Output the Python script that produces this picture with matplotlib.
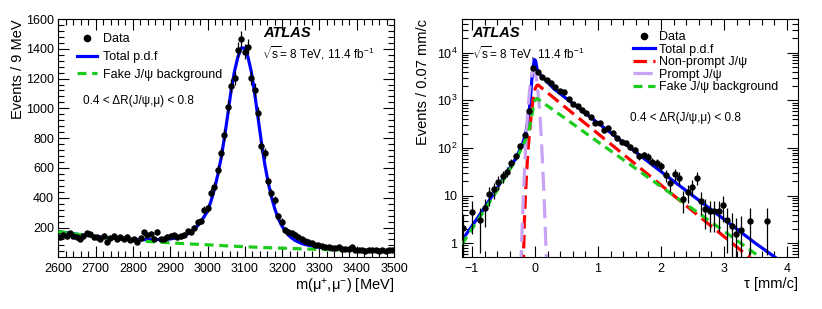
import numpy as np
import matplotlib
matplotlib.use('Agg')
import matplotlib.pyplot as plt
from matplotlib.lines import Line2D
from matplotlib.ticker import MultipleLocator, LogLocator, FuncFormatter, NullFormatter

plt.rcParams['font.family'] = ['Liberation Sans', 'DejaVu Sans']
plt.rcParams['mathtext.fontset'] = 'custom'
plt.rcParams['mathtext.rm'] = 'Liberation Sans'
plt.rcParams['mathtext.it'] = 'Liberation Sans:italic'
plt.rcParams['mathtext.bf'] = 'Liberation Sans:bold'
plt.rcParams['mathtext.default'] = 'regular'

# ---- left panel: di-muon mass, 9 MeV bins from 2600 to 3500 ----
mass_centers = np.arange(2604.5, 3500, 9.0)
mass_data = [135, 151, 140, 160, 141, 133, 122, 140, 160, 155,
             133, 135, 126, 146, 101, 128, 140, 120, 133, 126,
             138, 118, 122, 104, 128, 168, 150, 158, 125, 170,
             124, 122, 138, 146, 148, 138, 140, 150, 175, 172,
             200, 236, 246, 318, 330, 435, 475, 587, 699, 822,
             1012, 1150, 1202, 1392, 1466, 1381, 1415, 1202, 1124, 967,
             744, 699, 509, 430, 386, 274, 240, 184, 173, 162,
             151, 135, 122, 112, 106, 95, 84, 80, 73, 70,
             66, 62, 60, 70, 58, 54, 56, 66, 52, 48,
             47, 44, 50, 46, 47, 44, 49, 43, 47, 48]
mass_total = [172, 168, 165, 161, 158, 155, 152, 149, 146, 144,
              142, 139, 137, 134, 132, 130, 128, 125, 123, 121,
              121, 120, 119, 119, 118, 118, 118, 118, 118, 119,
              120, 121, 122, 124, 128, 132, 136, 143, 156, 170,
              188, 212, 240, 275, 312, 378, 458, 553, 667, 805,
              960, 1125, 1250, 1345, 1405, 1405, 1345, 1245, 1099, 936,
              773, 625, 505, 405, 325, 262, 215, 180, 150, 130,
              114, 103, 93, 86, 81, 76.5, 72, 68, 65.5, 63,
              60, 58, 56.5, 55, 53.5, 52.5, 51.5, 50.5, 49.7, 49,
              48, 47.5, 47, 46.5, 46, 45.5, 45, 44.5, 44, 43.5]
mass_bkg_x = [2600, 2650, 2700, 2750, 2800, 2850, 2900, 2950, 3000, 3050,
              3100, 3150, 3200, 3250, 3300, 3350, 3400, 3450, 3500]
mass_bkg = [173, 155, 140, 126, 113, 104.5, 97, 90, 84, 77,
            71, 65.5, 61, 57, 53, 50, 47, 45, 43]

# ---- right panel: pseudo-proper decay time, 0.07 mm/c bins ----
tau_data_x = [-1.145, -1.005, -0.865, -0.795, -0.725, -0.655, -0.585, -0.515,
              -0.445, -0.375, -0.305, -0.235, -0.165, -0.095, -0.025,
              0.045, 0.115, 0.185, 0.255, 0.325, 0.395, 0.465, 0.535, 0.605, 0.675,
              0.745, 0.815, 0.885, 0.955, 1.025, 1.095, 1.165, 1.235, 1.305, 1.375,
              1.445, 1.515, 1.585, 1.655, 1.725, 1.795, 1.865, 1.935, 2.005, 2.075,
              2.145, 2.215, 2.285, 2.355, 2.425, 2.495, 2.565, 2.635, 2.705, 2.775,
              2.845, 2.915, 2.985, 3.055, 3.125, 3.195, 3.265, 3.405, 3.685]
tau_data = [2.1, 4.6, 3.1, 5.4, 10.8, 13.5, 19.5, 26,
            32, 48, 67, 110, 190, 610, 4800,
            3900, 3160, 2690, 2290, 1880, 1590, 1470, 1050, 830, 760,
            630, 535, 440, 330, 330, 240, 260, 203, 160, 136,
            125, 107, 91, 68, 71, 66, 52, 48, 41, 27,
            18, 28, 24, 8.5, 11.7, 15.5, 24, 7.9, 5.2, 4.8,
            4.8, 4.8, 6.4, 3.1, 2.3, 1.6, 1.9, 3.0, 3.0]

tau_total_x = [-1.16, -1.0, -0.8, -0.6, -0.4, -0.3, -0.2, -0.15, -0.11, -0.09,
               -0.07, -0.05, -0.03, -0.01, 0.01, 0.03, 0.05, 0.08, 0.3, 0.5,
               1.0, 1.5, 2.0, 2.5, 3.0, 3.5, 3.9]
tau_total = [1.15, 2.3, 5.6, 14.5, 38, 62, 120, 190, 400, 640,
             1200, 2700, 5000, 7200, 6800, 4800, 3800, 3500, 1750, 1085,
             334, 104, 32, 10.1, 3.2, 1.0, 0.42]

tau_nonprompt_x = [-0.185, -0.17, -0.15, -0.13, -0.11, -0.09, -0.07, -0.05, -0.03, -0.01,
                   0.01, 0.03, 0.05, 0.5, 1.0, 1.5, 2.0, 2.5, 3.0, 3.5]
tau_nonprompt = [0.3, 2.5, 11, 35, 90, 190, 350, 650, 1050, 1500,
                 1850, 2050, 2100, 685, 200, 58, 16.7, 4.8, 1.39, 0.40]

tau_prompt_x = [-0.24, -0.22, -0.20, -0.18, -0.16, -0.14, -0.12, -0.10, -0.08, -0.06,
                -0.04, -0.02, 0.00, 0.02, 0.04, 0.06, 0.08, 0.10, 0.12, 0.14,
                0.16, 0.18, 0.20]
tau_prompt = [0.076, 0.5, 2.8, 13, 50, 165, 450, 1000, 1900, 3000,
              3900, 4300, 3900, 3000, 1900, 1000, 450, 165, 50, 13,
              2.8, 0.5, 0.076]

tau_fake_x = [-1.16, -1.0, -0.8, -0.6, -0.4, -0.3, -0.2, -0.15, -0.1, -0.06,
              -0.03, 0.0, 0.03, 0.5, 1.0, 1.5, 2.0, 2.5, 3.0, 3.5, 3.7]
tau_fake = [0.95, 2.0, 5.0, 13, 35, 58, 105, 150, 230, 400,
            700, 1000, 1100, 400, 134, 46, 15.5, 5.3, 1.8, 0.6, 0.39]

BLUE = '#0000ff'
GREEN = '#1ccc1c'
RED = '#ff0000'
LILAC = '#c9a3f5'
W, H = 822, 309


def px_axes(left, top, right, bottom):
    return [left / W, 1 - bottom / H, (right - left) / W, (bottom - top) / H]


def root_style(ax):
    ax.tick_params(which='both', direction='in', top=True, right=True,
                   labelsize=9, width=0.8)
    ax.tick_params(which='major', length=8)
    ax.tick_params(which='minor', length=4)
    ax.tick_params(axis='x', pad=4)
    ax.tick_params(axis='y', pad=3)
    for s in ax.spines.values():
        s.set_linewidth(0.8)


# legend handle for data: dot only, no error bar
data_handle = Line2D([], [], marker='o', ls='none', color='k', ms=4.5)

fig = plt.figure(figsize=(W / 100, H / 100), dpi=100)

# ================= left panel =================
ax1 = fig.add_axes(px_axes(58.3, 19, 394, 257))
root_style(ax1)
l_tot, = ax1.plot(mass_centers, mass_total, color=BLUE, lw=2.3, zorder=2)
l_bkg, = ax1.plot(mass_bkg_x, mass_bkg, color=GREEN, lw=2.3, dashes=(2.8, 1.8), zorder=3)
mdata = np.array(mass_data, dtype=float)
ax1.errorbar(mass_centers, mdata, yerr=1.35 * np.sqrt(mdata), fmt='o', color='k',
             ms=3.6, elinewidth=0.9, capsize=0, zorder=4)
ax1.set_xlim(2600, 3500)
ax1.set_ylim(2, 1600)
ax1.xaxis.set_major_locator(MultipleLocator(100))
ax1.xaxis.set_minor_locator(MultipleLocator(20))
ax1.yaxis.set_major_locator(MultipleLocator(200))
ax1.yaxis.set_minor_locator(MultipleLocator(40))
ax1.set_xlabel('m(μ$^{+}$,μ$^{-}$) [MeV]', fontsize=10.5, loc='right')
ax1.set_ylabel('Events / 9 MeV', fontsize=10.5, loc='top')
ax1.xaxis.set_label_coords(1.0, -0.082)
ax1.yaxis.set_label_coords(-0.098, 1.0)

ax1.legend([data_handle, l_tot, l_bkg], ['Data', 'Total p.d.f', 'Fake J/ψ background'],
           loc='upper left', bbox_to_anchor=(0.056, 0.94), frameon=False, fontsize=9,
           borderpad=0, borderaxespad=0, handlelength=1.6, handletextpad=0.45,
           labelspacing=0.45)
ax1.text(0.073, 0.655, '0.4 < ΔR(J/ψ,μ) < 0.8', transform=ax1.transAxes,
         fontsize=8.5, va='center')
ax1.text(0.61, 0.94, 'ATLAS', transform=ax1.transAxes, fontsize=10.5,
         fontweight='bold', fontstyle='italic', va='center')
ax1.text(0.607, 0.855, r'$\sqrt{s}$= 8 TeV, 11.4 fb$^{-1}$', transform=ax1.transAxes,
         fontsize=8.5, va='center')

# ================= right panel =================
ax2 = fig.add_axes(px_axes(461.7, 19, 797.7, 257))
root_style(ax2)
ax2.set_yscale('log')
r_tot, = ax2.plot(tau_total_x, tau_total, color=BLUE, lw=2.3, zorder=2)
r_np, = ax2.plot(tau_nonprompt_x, tau_nonprompt, color=RED, lw=2.3, dashes=(4.2, 2.0), zorder=3)
r_pr, = ax2.plot(tau_prompt_x, tau_prompt, color=LILAC, lw=2.3, dashes=(6, 2.6), zorder=3)
r_fk, = ax2.plot(tau_fake_x, tau_fake, color=GREEN, lw=2.3, dashes=(2.8, 1.8), zorder=3)
tdata = np.array(tau_data, dtype=float)
terr = 1.4 * np.sqrt(tdata)
ax2.errorbar(tau_data_x, tdata, yerr=[np.minimum(terr, tdata * 0.999), terr],
             fmt='o', color='k', ms=3.6, elinewidth=0.9, capsize=0, zorder=4)
ax2.set_xlim(-1.163, 4.17)
ax2.set_ylim(0.516, 5.1e4)
ax2.xaxis.set_major_locator(MultipleLocator(1))
ax2.xaxis.set_minor_locator(MultipleLocator(0.2))
ax2.yaxis.set_major_locator(LogLocator(base=10, numticks=10))
ax2.yaxis.set_minor_locator(LogLocator(base=10, subs=np.arange(2, 10), numticks=10))
ax2.yaxis.set_minor_formatter(NullFormatter())


def log_label(v, pos):
    if v == 1:
        return '1'
    if v == 10:
        return '10'
    return r'$10^{%d}$' % int(round(np.log10(v)))


ax2.yaxis.set_major_formatter(FuncFormatter(log_label))
ax2.set_xlabel('τ [mm/c]', fontsize=10.5, loc='right')
ax2.set_ylabel('Events / 0.07 mm/c', fontsize=10.5, loc='top')
ax2.xaxis.set_label_coords(1.0, -0.082)
ax2.yaxis.set_label_coords(-0.094, 1.0)

ax2.legend([data_handle, r_tot, r_np, r_pr, r_fk],
           ['Data', 'Total p.d.f', 'Non-prompt J/ψ', 'Prompt J/ψ', 'Fake J/ψ background'],
           loc='upper left', bbox_to_anchor=(0.51, 0.95), frameon=False, fontsize=9,
           borderpad=0, borderaxespad=0, handlelength=1.75, handletextpad=0.3,
           labelspacing=0.05)
ax2.text(0.5, 0.584, '0.4 < ΔR(J/ψ,μ) < 0.8', transform=ax2.transAxes,
         fontsize=8.5, va='center')
ax2.text(0.033, 0.94, 'ATLAS', transform=ax2.transAxes, fontsize=10.5,
         fontweight='bold', fontstyle='italic', va='center')
ax2.text(0.03, 0.855, r'$\sqrt{s}$= 8 TeV, 11.4 fb$^{-1}$', transform=ax2.transAxes,
         fontsize=8.5, va='center')

fig.savefig('out.png', dpi=100)
